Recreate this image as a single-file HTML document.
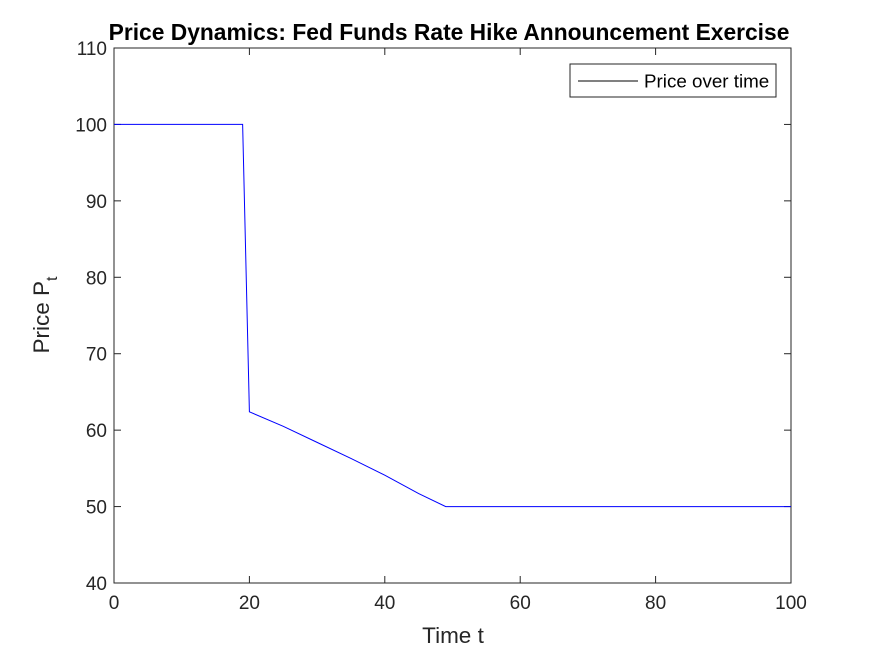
<!DOCTYPE html>
<html><head><meta charset="utf-8"><style>body{margin:0;background:#fff}svg{display:block}</style></head>
<body>
<svg id="chart" width="875" height="656" viewBox="0 0 875 656" font-family="Liberation Sans, sans-serif">
<rect width="875" height="656" fill="#fff"/>
<text x="449" y="40" text-anchor="middle" font-size="22.8" font-weight="bold" fill="#000">Price Dynamics: Fed Funds Rate Hike Announcement Exercise</text>
<g id="axes"></g>
<text x="453" y="643" text-anchor="middle" font-size="22.5" fill="#262626">Time t</text>
<text transform="translate(49,315) rotate(-90)" text-anchor="middle" font-size="22.5" fill="#262626">Price P<tspan font-size="16" dy="8">t</tspan></text>
<g>
<rect x="570" y="64" width="206" height="33" fill="#fff" stroke="#262626" stroke-width="1"/>
<line x1="578" y1="81" x2="638" y2="81" stroke="#000" stroke-width="1"/>
<text x="644" y="87.5" font-size="18.8" fill="#000">Price over time</text>
</g>
</svg>
<script>
const times=[0,19,20,25,30,35,40,45,49,100];
const prices=[100,100,62.4,60.5,58.4,56.3,54.1,51.7,50,50];
const xTicks=[0,20,40,60,80,100];
const yTicks=[40,50,60,70,80,90,100,110];
const L=114,R=791,T=48,B=583,xmin=0,xmax=100,ymin=40,ymax=110;
const sx=v=>L+(v-xmin)/(xmax-xmin)*(R-L);
const sy=v=>B-(v-ymin)/(ymax-ymin)*(B-T);
const NS="http://www.w3.org/2000/svg";
const g=document.getElementById('axes');
function mk(t,a){const e=document.createElementNS(NS,t);for(const k in a)e.setAttribute(k,a[k]);g.appendChild(e);return e;}
const box=mk('rect',{x:L,y:T,width:R-L,height:B-T,fill:'none',stroke:'#262626','stroke-width':1});


xTicks.forEach(v=>{
 const x=sx(v);
 const a=mk('line',{x1:x,y1:B,x2:x,y2:B-7,stroke:'#262626'});
 
 
 const b=mk('line',{x1:x,y1:T,x2:x,y2:T+7,stroke:'#262626'});
 
 
 const t=mk('text',{x:x,y:B+26,'text-anchor':'middle','font-size':19,fill:'#262626'});
 t.textContent=v;
 
 
});
yTicks.forEach(v=>{
 const y=sy(v);
 const a=mk('line',{x1:L,y1:y,x2:L+7,y2:y,stroke:'#262626'});
 
 
 const b=mk('line',{x1:R,y1:y,x2:R-7,y2:y,stroke:'#262626'});
 
 
 const t=mk('text',{x:L-7,y:y+7,'text-anchor':'end','font-size':19,fill:'#262626'});
 t.textContent=v;
 
 
});
const pts=times.map((t,i)=>sx(t)+','+sy(prices[i])).join(' ');
const line=mk('polyline',{points:pts,fill:'none',stroke:'#0000ff','stroke-width':1});


</script>
</body></html>
